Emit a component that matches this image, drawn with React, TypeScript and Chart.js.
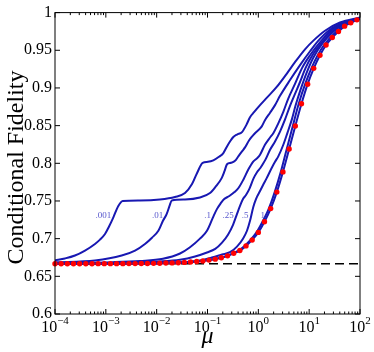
import React, { useEffect, useRef } from "react";
import { Chart, registerables } from "chart.js";

Chart.register(...registerables);

const SERIF = '"Liberation Serif", "Times New Roman", serif';

// Curve labels (value of the parameter for each blue curve) and where they sit
const curveLabels = [".001", ".01", ".1", ".25", ".5", "1"];
const labelMu = [8.9e-4, 1.04e-2, 0.100, 0.254, 0.548, 1.22];
const labelF = [0.7303, 0.7303, 0.7303, 0.7303, 0.7303, 0.7303];

// Curve ".001"
const mu001 = [1e-4, 1.57e-4, 2.47e-4, 3.89e-4, 6.12e-4, 7.68e-4, 9.63e-4, 1.15e-3, 1.40e-3, 1.76e-3, 2.15e-3, 4.7e-3, 1.16e-2, 2.29e-2, 3.61e-2, 4.96e-2, 6.21e-2, 8.04e-2, 0.102, 0.130, 0.168, 0.205, 0.242, 0.277, 0.322, 0.380, 0.477, 0.585, 0.686, 0.822, 1.08, 1.46, 2.30, 3.61, 5.26, 8.28, 12.1, 20.5, 40.4, 100];
const fid001 = [0.6711, 0.6737, 0.6776, 0.6842, 0.6930, 0.6987, 0.7062, 0.7158, 0.7280, 0.7434, 0.7500, 0.7507, 0.7520, 0.7553, 0.7605, 0.7724, 0.7868, 0.8007, 0.8020, 0.8039, 0.8086, 0.8136, 0.8224, 0.8289, 0.8349, 0.8382, 0.8414, 0.8513, 0.8612, 0.8678, 0.8772, 0.8868, 0.9013, 0.9188, 0.9342, 0.9513, 0.9628, 0.9759, 0.9868, 0.9934];

// Curve ".01"
const mu01 = [1e-4, 6.12e-4, 2.05e-3, 3.75e-3, 5.89e-3, 8.09e-3, 1.08e-2, 1.33e-2, 1.57e-2, 1.79e-2, 1.98e-2, 3.61e-2, 7.11e-2, 0.112, 0.147, 0.190, 0.216, 0.242, 0.290, 0.348, 0.404, 0.477, 0.547, 0.655, 0.750, 0.859, 1.16, 1.35, 1.70, 2.13, 2.67, 4.20, 6.61, 10.4, 16.3, 32.2, 100];
const fid01 = [0.6686, 0.6711, 0.6776, 0.6842, 0.6930, 0.7013, 0.7105, 0.7237, 0.7325, 0.7434, 0.7507, 0.7520, 0.7546, 0.7605, 0.7697, 0.7803, 0.7895, 0.7987, 0.8007, 0.8033, 0.8092, 0.8158, 0.8211, 0.8303, 0.8355, 0.8399, 0.8487, 0.8572, 0.8671, 0.8772, 0.8895, 0.9105, 0.9303, 0.9487, 0.9651, 0.9816, 0.9930];

// Curve ".1"
const mu1 = [1e-4, 1.38e-3, 4.70e-3, 1.33e-2, 2.88e-2, 4.53e-2, 7.11e-2, 9.76e-2, 0.127, 0.154, 0.184, 0.208, 0.269, 0.340, 0.410, 0.510, 0.635, 0.785, 0.942, 1.08, 1.35, 1.70, 1.97, 2.47, 3.10, 3.88, 5.26, 7.23, 10.4, 16.3, 32.2, 60, 100];
const fid1 = [0.6671, 0.6688, 0.6704, 0.6733, 0.6803, 0.6886, 0.7000, 0.7105, 0.7276, 0.7395, 0.7474, 0.7520, 0.7566, 0.7618, 0.7675, 0.7786, 0.7917, 0.8020, 0.8066, 0.8114, 0.8246, 0.8342, 0.8399, 0.8530, 0.8684, 0.8859, 0.9053, 0.9263, 0.9434, 0.9605, 0.9803, 0.9870, 0.9927];

// Curve ".25"
const mu25 = [1e-4, 1.90e-3, 1.16e-2, 2.88e-2, 5.68e-2, 9.78e-2, 0.142, 0.193, 0.253, 0.318, 0.381, 0.436, 0.499, 0.572, 0.670, 0.810, 0.941, 1.095, 1.22, 1.38, 1.70, 2.13, 2.67, 3.34, 4.20, 5.26, 6.61, 8.47, 11.9, 17.9, 35.2, 60, 100];
const fid25 = [0.6668, 0.6678, 0.6697, 0.6720, 0.6763, 0.6816, 0.6864, 0.6947, 0.7053, 0.7184, 0.7329, 0.7434, 0.7526, 0.7579, 0.7664, 0.7803, 0.7882, 0.7938, 0.7987, 0.8049, 0.8180, 0.8289, 0.8421, 0.8579, 0.8763, 0.8921, 0.9079, 0.9263, 0.9447, 0.9605, 0.9803, 0.9866, 0.9925];

// Curve ".5"
const mu5 = [1e-4, 2.99e-3, 1.83e-2, 6.12e-2, 0.122, 0.193, 0.277, 0.380, 0.499, 0.598, 0.686, 0.796, 0.899, 1.08, 1.24, 1.46, 1.83, 2.13, 2.47, 3.10, 3.75, 4.49, 5.38, 6.75, 8.86, 11.9, 18.3, 36.9, 60, 100];
const fid5 = [0.6667, 0.6671, 0.6684, 0.6701, 0.6750, 0.6789, 0.6820, 0.6895, 0.7000, 0.7105, 0.7237, 0.7421, 0.7526, 0.7632, 0.7711, 0.7803, 0.7938, 0.8020, 0.8092, 0.8246, 0.8408, 0.8566, 0.8763, 0.8974, 0.9197, 0.9395, 0.9592, 0.9796, 0.9862, 0.9923];

// Curve "1"
const muOne = [1e-4, 7.40e-3, 4.53e-2, 0.112, 0.231, 0.407, 0.535, 0.702, 0.921, 1.208, 1.607, 2.099, 2.767, 3.614, 4.764, 6.25, 8.36, 11.1, 14.7, 19.6, 34.2, 59.4, 100];
const fidOne = [0.6667, 0.6670, 0.6695, 0.6721, 0.6768, 0.6842, 0.6904, 0.6983, 0.7083, 0.7224, 0.7399, 0.7618, 0.7886, 0.8188, 0.8496, 0.8793, 0.9053, 0.9263, 0.9434, 0.9570, 0.9750, 0.9857, 0.9921];

// Red markers (limiting curve)
const redMu = [1.00e-4, 1.32e-4, 1.75e-4, 2.31e-4, 3.05e-4, 4.04e-4, 5.34e-4, 7.06e-4, 9.33e-4, 1.23e-3, 1.63e-3, 2.16e-3, 2.85e-3, 3.77e-3, 4.98e-3, 6.58e-3, 8.70e-3, 1.15e-2, 1.52e-2, 2.01e-2, 2.66e-2, 3.51e-2, 4.64e-2, 6.14e-2, 8.11e-2, 0.107, 0.142, 0.187, 0.248, 0.328, 0.433, 0.572, 0.757, 1.00, 1.32, 1.75, 2.31, 3.05, 4.04, 5.34, 7.06, 9.33, 12.3, 16.3, 21.5, 28.5, 37.7, 49.8, 65.8, 87.0];
const redF = [0.6667, 0.6667, 0.6667, 0.6667, 0.6667, 0.6667, 0.6667, 0.6668, 0.6668, 0.6668, 0.6668, 0.6668, 0.6669, 0.6669, 0.6670, 0.6671, 0.6672, 0.6674, 0.6676, 0.6678, 0.6681, 0.6685, 0.6690, 0.6696, 0.6704, 0.6715, 0.6728, 0.6746, 0.6772, 0.6807, 0.6842, 0.6904, 0.6983, 0.7083, 0.7224, 0.7399, 0.7618, 0.7886, 0.8190, 0.8496, 0.8790, 0.9050, 0.9260, 0.9434, 0.9570, 0.9670, 0.9750, 0.9820, 0.9864, 0.9904];
const limitMu = [...redMu, 100];
const limitF = [...redF, 0.9918];

// Dashed 2/3 reference line
const dashMu = [1e-4, 1e2];
const dashF = [0.6667, 0.6667];

// Axis ticks
const xMajorTicks = [1e-4, 1e-3, 1e-2, 1e-1, 1, 10, 100];
const xTickExponents = ["\u22124", "\u22123", "\u22122", "\u22121", "0", "1", "2"];
const xMinorSteps = [2, 3, 4, 5, 6, 7, 8, 9];

const BLUE = "rgb(24,24,178)";

const pts = (mu: number[], f: number[]) => mu.map((m, i) => ({ x: m, y: f[i] }));

const blueLine = (mu: number[], f: number[]) => ({
  data: pts(mu, f),
  borderColor: BLUE,
  borderWidth: 2,
  pointRadius: 0,
  pointHoverRadius: 0,
  cubicInterpolationMode: "monotone" as const,
  fill: false,
});

const decorations = {
  id: "decorations",
  afterDraw(chart: any) {
    const { ctx, chartArea: a } = chart;
    const xs = chart.scales.x;
    const ys = chart.scales.y;
    ctx.save();
    ctx.strokeStyle = "#000";
    ctx.lineWidth = 1;
    ctx.strokeRect(a.left, a.top, a.right - a.left, a.bottom - a.top);

    ctx.beginPath();
    xMajorTicks.forEach((v) => {
      const p = xs.getPixelForValue(v);
      ctx.moveTo(p, a.bottom);
      ctx.lineTo(p, a.bottom - 5);
      ctx.moveTo(p, a.top);
      ctx.lineTo(p, a.top + 5);
    });
    xMajorTicks.slice(0, -1).forEach((d) => {
      xMinorSteps.forEach((m) => {
        const p = xs.getPixelForValue(d * m);
        ctx.moveTo(p, a.bottom);
        ctx.lineTo(p, a.bottom - 2.5);
        ctx.moveTo(p, a.top);
        ctx.lineTo(p, a.top + 2.5);
      });
    });
    ys.ticks.forEach((t: any) => {
      const p = ys.getPixelForValue(t.value);
      ctx.moveTo(a.left, p);
      ctx.lineTo(a.left + 5, p);
      ctx.moveTo(a.right, p);
      ctx.lineTo(a.right - 5, p);
    });
    ctx.stroke();

    // x tick labels: 10 with superscript exponent
    ctx.fillStyle = "#000";
    ctx.textAlign = "left";
    ctx.textBaseline = "alphabetic";
    xMajorTicks.forEach((v, i) => {
      const p = xs.getPixelForValue(v);
      ctx.font = `16px ${SERIF}`;
      const w1 = ctx.measureText("10").width;
      ctx.font = `11px ${SERIF}`;
      const w2 = ctx.measureText(xTickExponents[i]).width;
      const start = p - (w1 + w2) / 2;
      ctx.font = `16px ${SERIF}`;
      ctx.fillText("10", start, 332);
      ctx.font = `11px ${SERIF}`;
      ctx.fillText(xTickExponents[i], start + w1, 323.5);
    });

    // x title
    ctx.font = `italic 24px ${SERIF}`;
    ctx.textAlign = "center";
    ctx.fillText("\u03bc", (a.left + a.right) / 2, 343);

    // y title
    ctx.save();
    ctx.translate(23, 167.5);
    ctx.rotate(-Math.PI / 2);
    ctx.font = `24px ${SERIF}`;
    ctx.textAlign = "center";
    ctx.fillText("Conditional Fidelity", 0, 0);
    ctx.restore();

    // curve labels
    ctx.font = `9px ${SERIF}`;
    ctx.fillStyle = "rgb(88,88,205)";
    ctx.textAlign = "center";
    ctx.textBaseline = "middle";
    curveLabels.forEach((txt, i) => {
      ctx.fillText(txt, xs.getPixelForValue(labelMu[i]), ys.getPixelForValue(labelF[i]));
    });
    ctx.restore();
  },
};

export default function App() {
  const canvasRef = useRef<HTMLCanvasElement | null>(null);

  useEffect(() => {
    if (!canvasRef.current) return;
    const chart = new Chart(canvasRef.current, {
      type: "line",
      data: {
        datasets: [
          {
            data: pts(redMu, redF),
            showLine: false,
            pointRadius: 2.7,
            pointHoverRadius: 2.7,
            pointBackgroundColor: "#ff0000",
            pointBorderWidth: 0,
            borderColor: "#ff0000",
            clip: false,
          } as any,
          blueLine(limitMu, limitF),
          blueLine(muOne, fidOne),
          blueLine(mu5, fid5),
          blueLine(mu25, fid25),
          blueLine(mu1, fid1),
          blueLine(mu01, fid01),
          blueLine(mu001, fid001),
          {
            data: pts(dashMu, dashF),
            borderColor: "#000",
            borderWidth: 1.6,
            borderDash: [9, 5],
            pointRadius: 0,
            pointHoverRadius: 0,
            fill: false,
          },
        ],
      },
      options: {
        animation: false,
        responsive: true,
        maintainAspectRatio: false,
        events: [],
        layout: { padding: { top: 10, right: 14, bottom: 0, left: 0 } },
        plugins: { legend: { display: false }, tooltip: { enabled: false } },
        scales: {
          x: {
            type: "logarithmic",
            min: 1e-4,
            max: 1e2,
            ticks: { display: false },
            grid: { display: false, drawTicks: false },
            border: { display: false },
            afterFit: (scale: any) => {
              scale.height = 38;
            },
          },
          y: {
            type: "linear",
            min: 0.6,
            max: 1,
            ticks: {
              stepSize: 0.05,
              padding: 3,
              color: "#000",
              font: { family: SERIF, size: 16 },
              callback: (v: any) => String(Number(Number(v).toFixed(2))),
            },
            grid: { display: false, drawTicks: false },
            border: { display: false },
            afterFit: (scale: any) => {
              scale.width = 55;
            },
          },
        },
      },
      plugins: [decorations],
    });
    return () => chart.destroy();
  }, []);

  return (
    <div style={{ position: "fixed", left: 0, top: 0, width: 374, height: 352, background: "#fff" }}>
      <canvas ref={canvasRef} />
    </div>
  );
}
